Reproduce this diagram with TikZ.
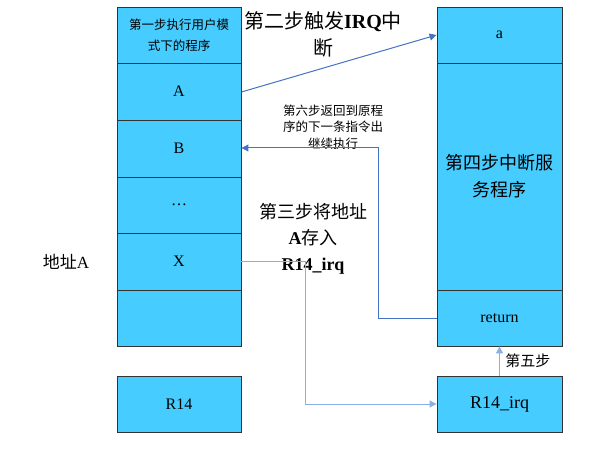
\documentclass[tikz,border=0pt]{standalone}
\usepackage{fontspec}
\setmainfont{Liberation Serif}
\newfontfamily\cjk{Noto Sans CJK SC}[BoldFont=Noto Sans CJK SC]
\usetikzlibrary{arrows.meta}
\definecolor{boxfill}{HTML}{47CCFF}
\definecolor{arrowc}{HTML}{4472C4}
\definecolor{arrowl}{HTML}{8AAEE6}
\tikzset{
  cell/.style={draw=black!80, fill=boxfill, line width=0.9pt, minimum width=124pt, inner sep=0pt, align=center, font=\fontsize{16}{18}\selectfont},
  conn/.style={draw=arrowc, line width=1pt, -{Triangle[length=7pt,width=7pt]}},
  lbl/.style={align=center, inner sep=0pt}
}
\begin{document}
\begin{tikzpicture}[x=1pt,y=-1pt]
\useasboundingbox (0,0) rectangle (595,457);
% left column
\node[cell, minimum height=56pt, font=\cjk\fontsize{12.5}{21}\selectfont] (h) at (179,35) {第一步执行用户模\\式下的程序};
\node[cell, minimum height=57pt] (A) at (179,91.5) {A};
\node[cell, minimum height=57pt] (B) at (179,148.5) {B};
\node[cell, minimum height=56pt] (D) at (179,205) {…};
\node[cell, minimum height=57pt] (X) at (179,261.5) {X};
\node[cell, minimum height=56pt] (E) at (179,318) {};
\node[cell, minimum height=56pt] (R) at (179,404) {R14};
% right column
\node[cell, minimum width=125pt, minimum height=56pt] (a) at (499.5,35) {a};
\node[cell, minimum width=125pt, minimum height=227pt, font=\cjk\fontsize{18}{27}\selectfont] (isr) at (499.5,176.5) {第四步中断服\\务程序};
\node[cell, minimum width=125pt, minimum height=56pt] (ret) at (499.5,318) {return};
\node[cell, minimum width=125pt, minimum height=56pt, font=\fontsize{18}{20}\selectfont] (Ri) at (499.5,404) {R14\_irq};
% labels
\node[lbl, font=\fontsize{20}{27}\selectfont] (l2) at (323,34) {{\cjk 第二步触发}\textbf{IRQ}{\cjk 中}\\{\cjk 断}};
\node[lbl, font=\cjk\fontsize{12.5}{16.5}\selectfont] (l6) at (333,127) {第六步返回到原程\\序的下一条指令出\\继续执行};
\node[lbl, font=\fontsize{18}{26}\selectfont] (l3) at (313,239) {{\cjk 第三步将地址}\\\textbf{A}{\cjk 存入}\\\textbf{R14\_irq}};
\node[lbl, font=\fontsize{17}{19}\selectfont] (addr) at (66,262) {{\cjk 地址}A};
% connectors
\coordinate (c1) at (378,319);
\coordinate (c2) at (378,148);
\coordinate (c3) at (305,262);
\coordinate (c4) at (305,404);
\draw[conn] (A.east |- 0,92) -- (a.west |- 0,35);
\draw[conn] (ret.west |- c1) -- (c1) -- (c2) -- (B.east |- c2);
\draw[conn, draw=arrowl] (X.east |- c3) -- (c3) -- (c4) -- (Ri.west |- c4);
\draw[conn, draw=arrowl] (Ri.north) -- (ret.south) node[midway, right=2pt, font=\cjk\fontsize{15}{17}\selectfont, black] {第五步};
\end{tikzpicture}
\end{document}
